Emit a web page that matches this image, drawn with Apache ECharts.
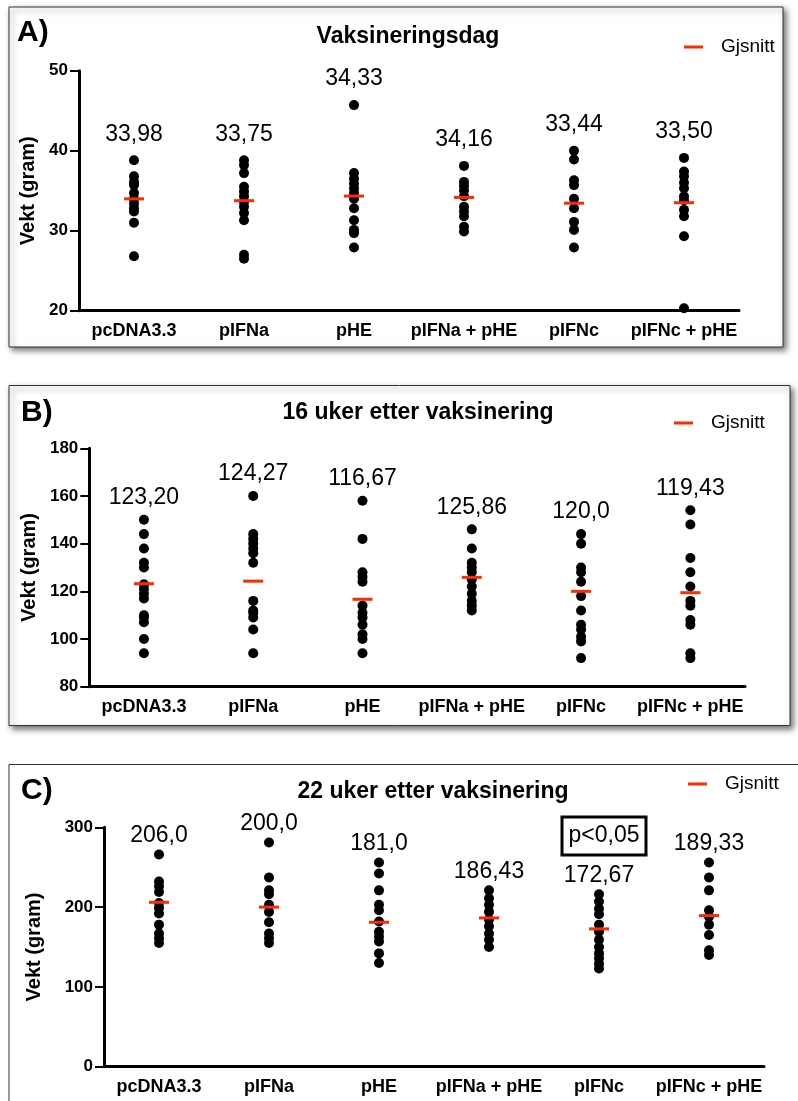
<!DOCTYPE html>
<html>
<head>
<meta charset="utf-8">
<script src="https://cdn.jsdelivr.net/npm/echarts@6/dist/echarts.min.js"></script>
<style>
  html, body { margin: 0; padding: 0; background: #fff; }
  #container { width: 798px; height: 1101px; }
</style>
</head>
<body>
<div id="container"></div>
<script>
// vekt per gruppe, tre tidspunkt
var groups = ['pcDNA3.3', 'pIFNa', 'pHE', 'pIFNa + pHE', 'pIFNc', 'pIFNc + pHE'];

// A) vaksineringsdag
var dotsA = [
    [38.8, 36.8, 36.1, 35.7, 34.7, 34.0, 33.4, 32.8, 32.4, 31.0, 26.8],
    [38.8, 38.2, 37.2, 35.5, 34.9, 34.3, 33.6, 33.0, 32.2, 31.3, 27.0, 26.5],
    [45.7, 37.2, 36.5, 35.9, 35.3, 34.7, 34.0, 32.8, 31.3, 30.1, 29.7, 27.9],
    [38.1, 36.1, 35.6, 35.0, 34.3, 33.0, 32.4, 31.8, 30.5, 29.9],
    [40.0, 38.9, 36.3, 35.7, 34.0, 32.8, 31.1, 30.1, 27.9],
    [39.1, 37.4, 36.8, 36.0, 35.3, 34.3, 33.8, 32.6, 31.8, 29.3, 20.3]
];
var meansA = [33.98, 33.75, 34.33, 34.16, 33.44, 33.50];
var labelsA = ['33,98', '33,75', '34,33', '34,16', '33,44', '33,50'];

// B) 16 uker
var dotsB = [
    [150, 144, 138, 132, 130, 123, 121, 119, 117, 110, 109, 107, 100, 94],
    [160, 144, 142, 140, 138, 136, 132, 116, 112, 111, 109, 104, 94],
    [158, 142, 128, 126, 124, 114, 111, 109, 106, 102, 100, 94],
    [146, 138, 132, 130, 128, 125, 122, 119, 116, 114, 112],
    [144, 140, 130, 128, 124, 118, 112, 106, 104, 101, 99, 92],
    [154, 148, 134, 128, 122, 116, 114, 108, 106, 94, 92]
];
var meansB = [123.20, 124.27, 116.67, 125.86, 120.0, 119.43];
var labelsB = ['123,20', '124,27', '116,67', '125,86', '120,0', '119,43'];

// C) 22 uker
var dotsC = [
    [266, 232, 226, 219, 205, 199, 192, 178, 167, 161, 155],
    [281, 237, 221, 216, 203, 194, 181, 167, 161, 155],
    [256, 242, 221, 203, 196, 182, 169, 163, 157, 142, 130],
    [221, 211, 203, 194, 184, 176, 167, 159, 150],
    [216, 207, 198, 191, 178, 169, 159, 150, 142, 136, 129, 123],
    [256, 237, 221, 196, 188, 178, 165, 146, 140]
];
var meansC = [206.0, 200.0, 181.0, 186.43, 172.67, 189.33];
var labelsC = ['206,0', '200,0', '181,0', '186,43', '172,67', '189,33'];

var titles = ['Vaksineringsdag', '16 uker etter vaksinering', '22 uker etter vaksinering'];
var panelNames = ['A)', 'B)', 'C)'];
var yTicks = [[20, 50, 10], [80, 180, 20], [0, 300, 100]];

var FONT = '"Liberation Sans", Arial, sans-serif';
var RED = '#ff2a00';

var dom = document.getElementById('container');
var myChart = echarts.init(dom);

function makeX(k) {
    return {
        gridIndex: k,
        type: 'category',
        data: groups,
        boundaryGap: true,
        axisLine: { lineStyle: { color: '#000', width: 3 } },
        axisTick: { alignWithLabel: true, length: 8, lineStyle: { color: '#000', width: 3 } },
        axisLabel: { interval: 0, margin: 11, color: '#000', fontSize: 18, fontWeight: 'bold', fontFamily: FONT },
        splitLine: { show: false }
    };
}

function makeY(k, gap) {
    return {
        gridIndex: k,
        type: 'value',
        min: yTicks[k][0],
        max: yTicks[k][1],
        interval: yTicks[k][2],
        name: 'Vekt (gram)',
        nameLocation: 'middle',
        nameGap: gap,
        nameTextStyle: { color: '#000', fontSize: 20, fontWeight: 'bold', fontFamily: FONT },
        axisLine: { show: true, lineStyle: { color: '#000', width: 3 } },
        axisTick: { show: true, length: 9, lineStyle: { color: '#000', width: 2 } },
        axisLabel: { margin: 11, color: '#000', fontSize: 17, fontWeight: 'bold', fontFamily: FONT },
        splitLine: { show: false }
    };
}

function dotSeries(k, dots) {
    var pts = [];
    dots.forEach(function (list, i) {
        list.forEach(function (v) { pts.push([i, v]); });
    });
    return {
        type: 'scatter',
        xAxisIndex: k,
        yAxisIndex: k,
        symbolSize: 10,
        itemStyle: { color: '#000', opacity: 1 },
        data: pts,
        z: 3
    };
}

function meanSeries(k, means, labels, dots, gap) {
    return {
        type: 'custom',
        xAxisIndex: k,
        yAxisIndex: k,
        z: 5,
        data: means.map(function (m, i) { return [i, m, Math.max.apply(null, dots[i])]; }),
        renderItem: function (params, api) {
            var p = api.coord([api.value(0), api.value(1)]);
            var t = api.coord([api.value(0), api.value(2)]);
            return {
                type: 'group',
                children: [
                    { type: 'line', shape: { x1: p[0] - 10, y1: p[1], x2: p[0] + 10, y2: p[1] },
                      style: { stroke: RED, lineWidth: 3 } },
                    { type: 'text', x: t[0], y: t[1] - gap,
                      style: { text: labels[params.dataIndex], align: 'center', verticalAlign: 'middle',
                               fill: '#000', fontSize: 23, fontFamily: FONT } }
                ]
            };
        }
    };
}

// ramme, tittel, legend
var frames = [
    { x: 9, y: 7, w: 774, h: 340, shadow: true },
    { x: 9, y: 385.5, w: 781, h: 340, shadow: true },
    { x: 9, y: 764.5, w: 820, h: 400, shadow: false }
];
var titlePos = [[408, 37], [418, 413], [433, 792]];
var namePos = [[17, 33], [21, 413], [21, 791]];
var legendPos = [[684, 47], [674, 423], [688, 784]];

var graphics = [];
frames.forEach(function (f, k) {
    graphics.push({
        type: 'rect', z: -10,
        shape: { x: f.x, y: f.y, width: f.w, height: f.h },
        style: f.shadow ? { fill: '#fff', stroke: '#333', lineWidth: 1,
                 shadowBlur: 6, shadowOffsetX: 3, shadowOffsetY: 3, shadowColor: 'rgba(0,0,0,0.55)' }
               : { fill: '#fff', stroke: '#333', lineWidth: 1 }
    });
    graphics.push({
        type: 'text', x: titlePos[k][0], y: titlePos[k][1],
        style: { text: titles[k], align: 'center', verticalAlign: 'middle', fill: '#000',
                 fontSize: 23, fontWeight: 'bold', fontFamily: FONT }
    });
    graphics.push({
        type: 'text', x: namePos[k][0], y: namePos[k][1],
        style: { text: panelNames[k], align: 'left', verticalAlign: 'middle', fill: '#000',
                 fontSize: 30, fontWeight: 'bold', fontFamily: FONT }
    });
    graphics.push({
        type: 'line',
        shape: { x1: legendPos[k][0], y1: legendPos[k][1], x2: legendPos[k][0] + 19, y2: legendPos[k][1] },
        style: { stroke: RED, lineWidth: 3 }
    });
    graphics.push({
        type: 'text', x: legendPos[k][0] + 37, y: legendPos[k][1],
        style: { text: 'Gjsnitt', align: 'left', verticalAlign: 'middle', fill: '#000',
                 fontSize: 19, fontFamily: FONT }
    });
});
// signifikans-boks over pIFNc
graphics.push({
    type: 'rect',
    shape: { x: 562, y: 817, width: 84, height: 38 },
    style: { fill: 'none', stroke: '#000', lineWidth: 3 }
});
graphics.push({
    type: 'text', x: 604, y: 836,
    style: { text: 'p<0,05', align: 'center', verticalAlign: 'middle', fill: '#000',
             fontSize: 23, fontFamily: FONT }
});

var option = {
    backgroundColor: '#fff',
    animation: false,
    grid: [
        { left: 79, top: 70.7, width: 660, height: 240 },
        { left: 89.3, top: 448.3, width: 655.7, height: 238.4 },
        { left: 104, top: 827.3, width: 660, height: 239.4 }
    ],
    xAxis: [makeX(0), makeX(1), makeX(2)],
    yAxis: [makeY(0, 35), makeY(1, 45), makeY(2, 60)],
    graphic: graphics,
    series: [
        dotSeries(0, dotsA), meanSeries(0, meansA, labelsA, dotsA, 26),
        dotSeries(1, dotsB), meanSeries(1, meansB, labelsB, dotsB, 22),
        dotSeries(2, dotsC), meanSeries(2, meansC, labelsC, dotsC, 19)
    ]
};

myChart.setOption(option);
</script>
</body>
</html>
